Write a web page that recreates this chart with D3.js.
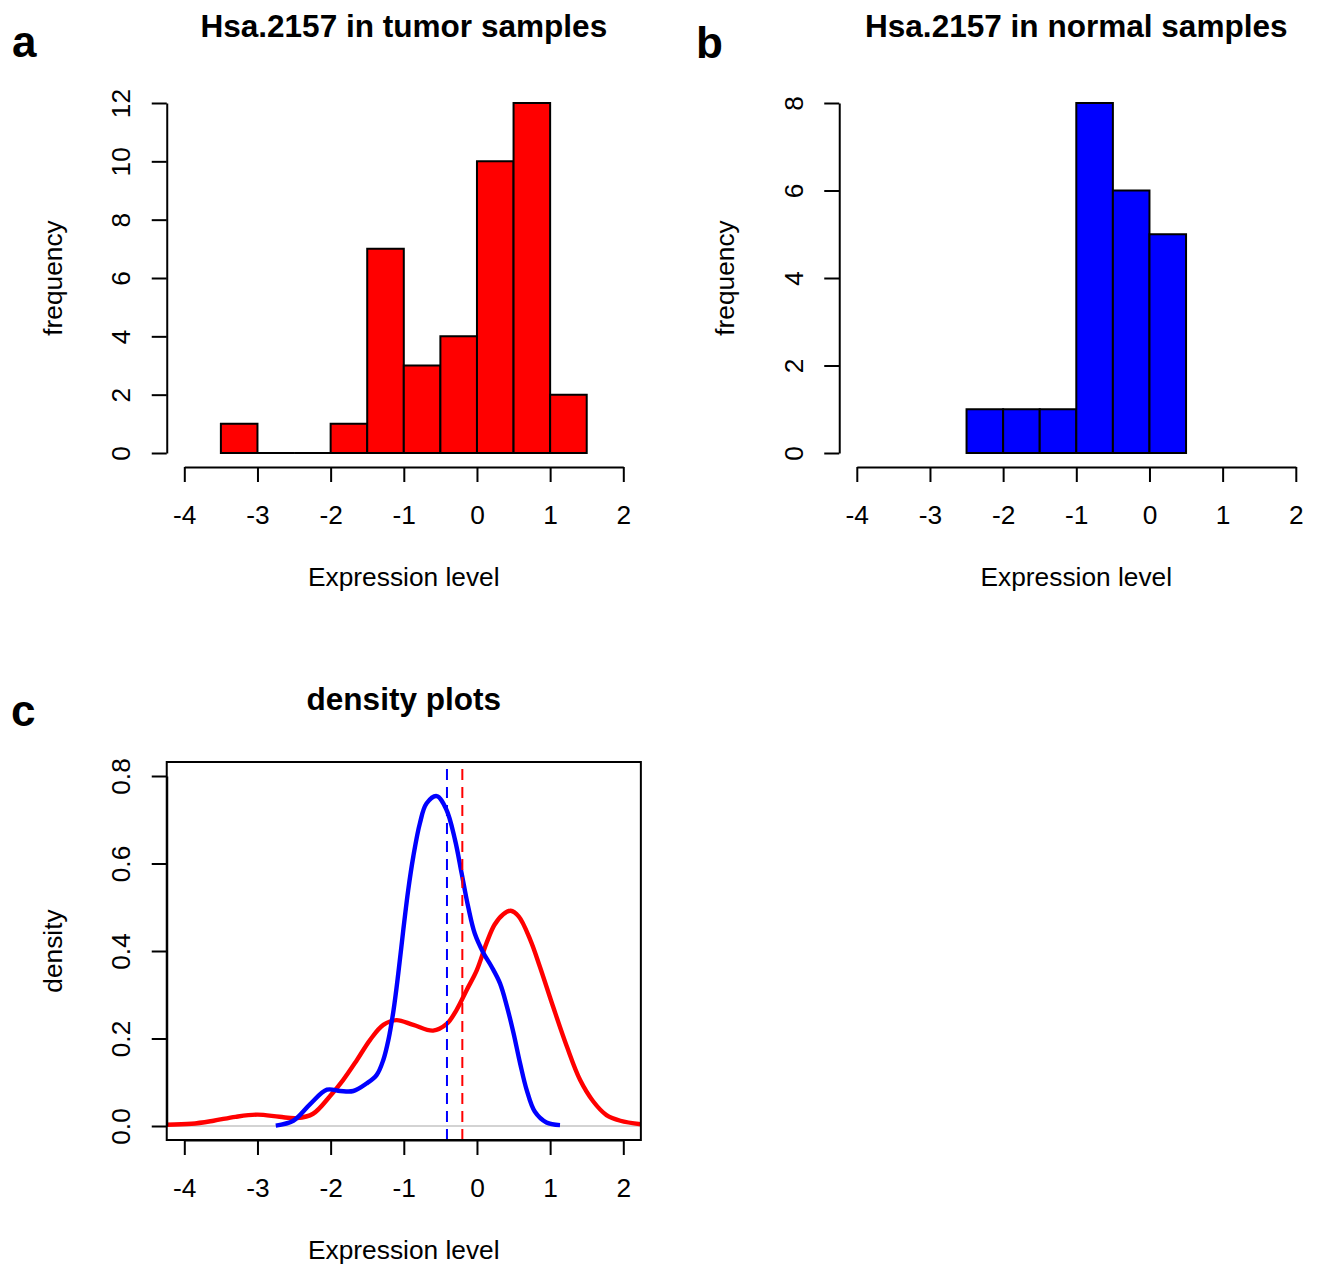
<!DOCTYPE html>
<html>
<head>
<meta charset="utf-8">
<script src="https://cdn.jsdelivr.net/npm/d3@7"></script>
<style>
  body { margin: 0; background: #fff; }
  text { font-family: "Liberation Sans", Arial, sans-serif; fill: #000; }
</style>
</head>
<body>
<svg id="canvas" width="1320" height="1266"></svg>
<script>
const width = 1320
const height = 1266

// histogram data (bin edges and counts)
const tumorBreaks = [-3.5, -3, -2.5, -2, -1.5, -1, -0.5, 0, 0.5, 1, 1.5]
const tumorCounts = [1, 0, 0, 1, 7, 3, 4, 10, 12, 2]
const normalBreaks = [-2.5, -2, -1.5, -1, -0.5, 0, 0.5]
const normalCounts = [1, 1, 1, 8, 6, 5]

const xTicks = [-4, -3, -2, -1, 0, 1, 2]
const tumorYTicks = [0, 2, 4, 6, 8, 10, 12]
const normalYTicks = [0, 2, 4, 6, 8]
const densityYTicks = [0, 0.2, 0.4, 0.6, 0.8]

// density curves
const tumorDensX = [-4.24, -3.9, -3.6, -3.3, -3.0, -2.7, -2.46, -2.24, -2.01, -1.83, -1.64, -1.46, -1.28, -1.1, -0.87, -0.6, -0.41, -0.28, -0.14, 0.0, 0.13, 0.24, 0.36, 0.46, 0.57, 0.73, 0.86, 1.04, 1.23, 1.41, 1.59, 1.77, 1.96, 2.24]
const tumorDensY = [0.003, 0.005, 0.012, 0.021, 0.026, 0.021, 0.018, 0.028, 0.068, 0.105, 0.151, 0.197, 0.231, 0.242, 0.231, 0.218, 0.234, 0.265, 0.311, 0.357, 0.418, 0.46, 0.484, 0.492, 0.479, 0.425, 0.364, 0.273, 0.181, 0.105, 0.056, 0.025, 0.012, 0.004]
const normalDensX = [-2.75, -2.51, -2.28, -2.05, -1.87, -1.69, -1.51, -1.37, -1.28, -1.21, -1.14, -1.075, -1.007, -0.94, -0.87, -0.78, -0.69, -0.55, -0.42, -0.3, -0.21, -0.12, -0.03, 0.09, 0.2, 0.315, 0.41, 0.5, 0.59, 0.68, 0.79, 0.95, 1.135]
const normalDensY = [0.001, 0.012, 0.05, 0.083, 0.08, 0.08, 0.097, 0.117, 0.151, 0.197, 0.265, 0.349, 0.448, 0.539, 0.616, 0.692, 0.737, 0.754, 0.724, 0.654, 0.578, 0.501, 0.44, 0.395, 0.364, 0.326, 0.273, 0.212, 0.143, 0.082, 0.033, 0.008, 0.002]
const tumorMean = -0.2
const normalMean = -0.41

const fontSize = 26.3
const canvas = d3.select("#canvas")

function styleAxis(g) {
    g.attr("font-size", fontSize).attr("font-family", "Liberation Sans, Arial, sans-serif")
    g.select(".domain").attr("stroke-width", 2)
    g.selectAll(".tick line").attr("stroke-width", 2)
}

function xAxis(y, scale) {
    canvas.append("g")
        .attr("transform", `translate(0,${y})`)
        .call(d3.axisBottom(scale).tickValues(xTicks).tickSize(15).tickSizeOuter(0).tickPadding(23.6).tickFormat(d => String(d)))
        .call(styleAxis)
}

function yAxis(x, scale, ticks, fmt) {
    const g = canvas.append("g")
        .attr("transform", `translate(${x},0)`)
        .call(d3.axisLeft(scale).tickValues(ticks).tickSize(15).tickSizeOuter(0).tickFormat(fmt))
        .call(styleAxis)
    g.selectAll(".tick text")
        .attr("x", null)
        .attr("dy", null)
        .attr("text-anchor", "middle")
        .attr("transform", "translate(-36.7,0) rotate(-90)")
}

function labels(left, right, top, bottom, title, ylab) {
    const cx = (left + right) / 2
    canvas.append("text")
        .attr("x", cx).attr("y", top - 52)
        .attr("text-anchor", "middle")
        .attr("font-size", fontSize * 1.2)
        .attr("font-weight", "bold")
        .text(title)
    canvas.append("text")
        .attr("x", cx).attr("y", bottom + 119)
        .attr("text-anchor", "middle")
        .attr("font-size", fontSize)
        .text("Expression level")
    canvas.append("text")
        .attr("transform", `translate(${left - 105},${(top + bottom) / 2}) rotate(-90)`)
        .attr("text-anchor", "middle")
        .attr("font-size", fontSize)
        .text(ylab)
}

function panelLetter(x, y, s) {
    canvas.append("text")
        .attr("x", x).attr("y", y)
        .attr("font-family", "Open Sans, sans-serif")
        .attr("font-weight", 700)
        .attr("font-size", 44)
        .text(s)
}

function drawHist(x0, ymax, breaks, counts, yTicks, fill, title) {
    const x = d3.scaleLinear().domain([-4, 2]).range([x0, x0 + 439])
    const y = d3.scaleLinear().domain([0, ymax]).range([453, 103])
    const left = x(-4.24), right = x(2.24)
    const top = y(ymax * 1.04), bottom = y(-ymax * 0.04)

    canvas.append("g").selectAll("path")
        .data(counts)
        .enter().append("path")
        .attr("d", (d, i) => `M${x(breaks[i])},${y(0)}V${y(d)}H${x(breaks[i + 1])}V${y(0)}Z`)
        .attr("fill", fill)
        .attr("stroke", "black")
        .attr("stroke-width", 2)

    xAxis(bottom, x)
    yAxis(left, y, yTicks, d => String(d))
    labels(left, right, top, bottom, title, "frequency")
}

drawHist(184.3, 12, tumorBreaks, tumorCounts, tumorYTicks, "#ff0000", "Hsa.2157 in tumor samples")
drawHist(856.8, 8, normalBreaks, normalCounts, normalYTicks, "#0000ff", "Hsa.2157 in normal samples")

// density panel
const xC = d3.scaleLinear().domain([-4, 2]).range([184.3, 623.3])
const yC = d3.scaleLinear().domain([0, 0.8]).range([1126, 776])
const cLeft = xC(-4.24), cRight = xC(2.24), cTop = yC(0.832), cBottom = yC(-0.032)

canvas.append("clipPath").attr("id", "clipC")
    .append("rect")
    .attr("x", cLeft).attr("y", cTop)
    .attr("width", cRight - cLeft).attr("height", cBottom - cTop)

const plotC = canvas.append("g").attr("clip-path", "url(#clipC)")

plotC.append("line")
    .attr("x1", cLeft).attr("x2", cRight)
    .attr("y1", yC(0)).attr("y2", yC(0))
    .attr("stroke", "#d3d3d3")
    .attr("stroke-width", 2)

const line = d3.line()
    .x(d => xC(d[0]))
    .y(d => yC(d[1]))
    .curve(d3.curveCatmullRom)

plotC.append("path")
    .attr("d", line(d3.zip(tumorDensX, tumorDensY)))
    .attr("fill", "none")
    .attr("stroke", "#ff0000")
    .attr("stroke-width", 4.4)

plotC.append("path")
    .attr("d", line(d3.zip(normalDensX, normalDensY)))
    .attr("fill", "none")
    .attr("stroke", "#0000ff")
    .attr("stroke-width", 4.4)

const means = [normalMean, tumorMean]
const meanColors = ["#0000ff", "#ff0000"]
plotC.selectAll(".mean")
    .data(means)
    .enter().append("line")
    .attr("x1", d => xC(d)).attr("x2", d => xC(d))
    .attr("y1", cBottom).attr("y2", cTop)
    .attr("stroke", (d, i) => meanColors[i])
    .attr("stroke-width", 2)
    .attr("stroke-dasharray", "11,7")

canvas.append("rect")
    .attr("x", cLeft).attr("y", cTop)
    .attr("width", cRight - cLeft).attr("height", cBottom - cTop)
    .attr("fill", "none")
    .attr("stroke", "black")
    .attr("stroke-width", 2)

xAxis(cBottom, xC)
yAxis(cLeft, yC, densityYTicks, d => d.toFixed(1))
labels(cLeft, cRight, cTop, cBottom, "density plots", "density")

panelLetter(12, 57, "a")
panelLetter(696, 57.5, "b")
panelLetter(11, 726, "c")
</script>
</body>
</html>
